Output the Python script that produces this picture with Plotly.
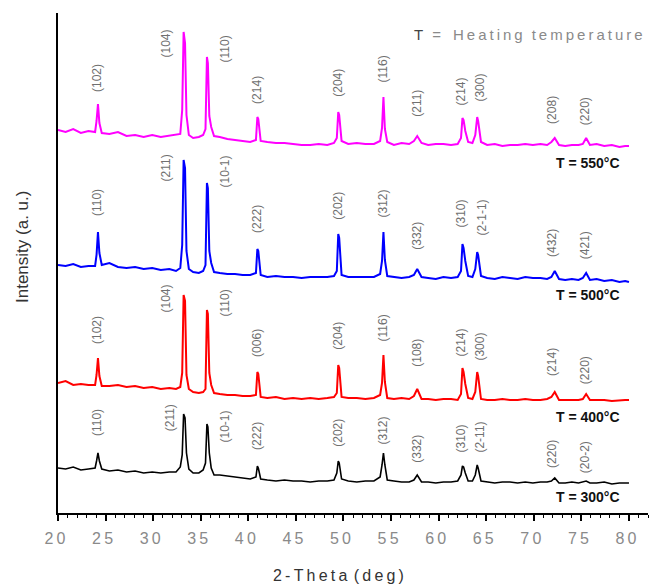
import plotly.graph_objects as go

# ---- data (2-theta grid shared by all patterns) ----
two_theta = [
    20.0, 20.8, 21.6, 22.4, 23.2,
    23.9, 24.05, 24.2, 24.35, 24.6,
    25.4, 26.3, 27.2, 28.1, 29.0, 29.9, 30.8, 31.7, 32.4,
    32.85, 33.05, 33.2, 33.35, 33.5, 33.75,
    34.2, 34.8, 35.25,
    35.5, 35.65, 35.75, 35.9, 36.1, 36.4,
    37.0, 37.8, 38.6, 39.4, 40.2,
    40.8, 40.95, 41.05, 41.3,
    42.0, 42.9, 43.8, 44.7, 45.6, 46.5, 47.4, 48.3, 49.0,
    49.3, 49.45, 49.55, 49.8,
    50.5, 51.4, 52.3, 53.2,
    53.85, 54.05, 54.2, 54.35, 54.6,
    55.3, 56.1, 56.9,
    57.4, 57.75, 58.2,
    58.9, 59.7, 60.5, 61.3, 62.0,
    62.35, 62.5, 62.62, 62.8, 63.1,
    63.55,
    63.85, 64.05, 64.15, 64.45,
    65.1, 65.9, 66.7, 67.5, 68.3, 69.1, 69.9, 70.7, 71.4,
    71.85, 72.2, 72.65,
    73.3, 74.0, 74.7,
    75.15, 75.5, 75.9,
    76.6, 77.4, 78.2, 79.0, 79.6, 80.0,
]

intensity_550 = [
    383, 381, 384, 380, 382,
    381, 392, 409, 390, 380,
    379, 381, 377, 378, 376, 378, 376, 377, 378,
    379, 403, 481, 470, 398, 378,
    375, 376, 378,
    384, 456, 450, 397, 386, 377,
    376, 374, 373, 372, 371,
    373, 396, 394, 372,
    371, 370, 370, 369, 368, 368, 369, 368, 370,
    375, 401, 398, 372,
    369, 370, 369, 369,
    372, 385, 416, 384, 371,
    368, 370, 369,
    372, 377, 370,
    368, 369, 369, 368, 369,
    375, 395, 393, 382, 371,
    370,
    378, 396, 392, 371,
    368, 369, 367, 368, 368, 369, 368, 369, 368,
    371, 375, 368,
    367, 368, 368,
    369, 375, 368,
    369, 367, 368, 366, 367, 367,
]

intensity_500 = [
    248, 247, 249, 246, 247,
    247, 258, 281, 260, 248,
    250, 246, 245, 246, 244, 245, 243, 244, 242,
    245, 268, 353, 345, 262, 244,
    241, 240, 242,
    248, 330, 325, 262, 250, 241,
    240, 239, 239, 238, 238,
    240, 264, 262, 238,
    236, 237, 236, 236, 235, 236, 236, 236, 237,
    242, 279, 275, 238,
    236, 236, 236, 236,
    239, 252, 281, 253, 237,
    236, 235, 236,
    238, 244, 236,
    235, 234, 236, 235, 236,
    242, 269, 265, 252, 237,
    236,
    244, 261, 258, 237,
    235, 234, 236, 235, 234, 236, 235, 235, 234,
    236, 242, 234,
    233, 234, 233,
    235, 240, 233,
    234, 232, 233, 231, 232, 231,
]

intensity_400 = [
    130, 132, 128, 129, 128,
    128, 138, 155, 137, 127,
    127, 128, 126, 127, 125, 126, 124, 125, 124,
    126, 140, 218, 212, 138, 124,
    121, 120, 121,
    124, 203, 199, 140, 128, 120,
    119, 118, 118, 117, 117,
    118, 141, 139, 116,
    115, 116, 114, 115, 114, 115, 114, 115, 116,
    120, 148, 145, 116,
    115, 115, 114, 115,
    118, 130, 158, 131, 115,
    114, 115, 114,
    117, 124, 114,
    114, 113, 114, 114, 113,
    119, 145, 141, 129, 115,
    114,
    121, 141, 137, 114,
    113, 113, 114, 113, 113, 114, 113, 113, 114,
    116, 121, 113,
    113, 113, 113,
    114, 119, 113,
    113, 113, 112, 113, 113, 113,
]

intensity_300 = [
    45, 44, 46, 43, 44,
    45, 52, 60, 52, 44,
    42, 43, 41, 42, 40, 41, 40, 41, 41,
    46, 58, 99, 95, 60, 44,
    40, 40, 43,
    50, 89, 86, 60, 45, 38,
    38, 37, 36, 35, 34,
    36, 47, 45, 34,
    33, 32, 33, 32, 32, 31, 32, 32, 33,
    40, 52, 50, 34,
    32, 31, 32, 32,
    36, 48, 60, 48, 33,
    32, 31, 31,
    33, 38, 31,
    31, 30, 31, 31, 32,
    38, 47, 46, 40, 32,
    32,
    38, 48, 45, 32,
    31, 30, 31, 31, 30, 31, 30, 31, 31,
    32, 35, 30,
    30, 31, 30,
    31, 32, 30,
    30, 31, 29, 30, 30, 30,
]

# peak index (hkl) labels for each pattern
hkl_550 = ["(102)", "(104)", "(110)", "(214)", "(204)", "(116)", "(211)", "(214)", "(300)", "(208)", "(220)"]
hkl_500 = ["(110)", "(211)", "(10-1)", "(222)", "(202)", "(312)", "(332)", "(310)", "(2-1-1)", "(432)", "(421)"]
hkl_400 = ["(102)", "(104)", "(110)", "(006)", "(204)", "(116)", "(108)", "(214)", "(300)", "(214)", "(220)"]
hkl_300 = ["(110)", "(211)", "(10-1)", "(222)", "(202)", "(312)", "(332)", "(310)", "(2-11)", "(220)", "(20-2)"]

temperatures = ["T = 550°C", "T = 500°C", "T = 400°C", "T = 300°C"]
x_ticks = [20, 25, 30, 35, 40, 45, 50, 55, 60, 65, 70, 75, 80]

# ---- layout helpers (positions of the labels) ----
label_x = [24.1, 31.4, 37.6, 40.9, 49.4, 54.1, 57.7, 62.3, 64.3, 71.9, 75.4]
label_y = {
    "550": [435, 470, 464, 423, 430, 444, 410, 421, 425, 403, 402],
    "500": [310, 345, 342, 294, 307, 309, 277, 299, 296, 270, 268],
    "400": [183, 215, 210, 170, 177, 185, 160, 170, 166, 151, 143],
    "300": [90, 95, 87, 77, 80, 82, 64, 74, 76, 59, 56],
}
temp_y = [350, 218, 96, 16]

series = [
    ("550", intensity_550, "#ff00ff", hkl_550, 2.0),
    ("500", intensity_500, "#0000ff", hkl_500, 2.0),
    ("400", intensity_400, "#ff0000", hkl_400, 2.0),
    ("300", intensity_300, "#000000", hkl_300, 1.6),
]

FONT = "Liberation Sans, Arial"
PLOT_W, PLOT_H = 590, 500
thin = "\u2009"

fig = go.Figure()
annotations = []
for (key, ys, color, hkls, lw), ttxt, ty in zip(series, temperatures, temp_y):
    fig.add_trace(go.Scatter(x=two_theta, y=ys, mode="lines",
                             line=dict(color=color, width=lw), showlegend=False,
                             hoverinfo="skip"))
    lx = list(label_x)
    if key == "300":
        lx[1] = 31.8
    elif key == "500":
        lx[8] = 64.6
    for txt, x, y in zip(hkls, lx, label_y[key]):
        annotations.append(dict(x=x, y=y, xref="x", yref="y", text=txt, textangle=-90,
                                showarrow=False, xanchor="center", yanchor="middle",
                                font=dict(family=FONT, size=12, color="#707070")))
    annotations.append(dict(x=79.3, y=ty, xref="x", yref="y", text="<b>" + ttxt + "</b>",
                            showarrow=False, xanchor="right", yanchor="middle",
                            font=dict(family=FONT, size=14, color="#111111")))

heading = thin.join("Heating") + thin * 3 + thin.join("temperature")
annotations.append(dict(x=(645 - 58) / PLOT_W, y=(513 - 34) / PLOT_H, xref="paper", yref="paper",
                        text="<span style='color:#444'>T</span>" + thin * 3 + "=" + thin * 4 + heading,
                        showarrow=False, xanchor="right", yanchor="middle",
                        font=dict(family=FONT, size=15, color="#8a8a8a")))
annotations.append(dict(x=(338 - 58) / PLOT_W, y=-(575 - 513) / PLOT_H, xref="paper", yref="paper",
                        text=thin.join("2-Theta") + thin * 2 + thin.join("(deg)"),
                        showarrow=False, xanchor="center", yanchor="middle",
                        font=dict(family=FONT, size=16, color="#333333")))
annotations.append(dict(x=-(58 - 22) / PLOT_W, y=(513 - 247) / PLOT_H, xref="paper", yref="paper",
                        text="Intensity (a. u.)", textangle=-90,
                        showarrow=False, xanchor="center", yanchor="middle",
                        font=dict(family=FONT, size=17, color="#333333")))

fig.update_layout(
    annotations=annotations,
    width=651, height=587,
    margin=dict(l=58, r=3, t=13, b=74, pad=0),
    paper_bgcolor="white", plot_bgcolor="white",
    font=dict(family=FONT, color="#333333"),
)

fig.update_xaxes(
    range=[20, 82], tickmode="array", tickvals=x_ticks,
    ticktext=[thin.join(str(v)) for v in x_ticks], automargin=False,
    ticks="outside", ticklen=6, tickwidth=1.5, tickcolor="black",
    minor=dict(dtick=1, ticks="outside", ticklen=3, tickcolor="black", tickwidth=1),
    showline=True, linecolor="black", linewidth=2, showgrid=False, zeroline=False,
    tickfont=dict(family=FONT, size=16, color="#8a8a8a"),
    ticklabelshift=-3, ticklabelstandoff=4,
)
fig.update_yaxes(
    range=[0, 500], showticklabels=False, ticks="", showline=True, linecolor="black",
    linewidth=2, showgrid=False, zeroline=False, automargin=False,
)

fig.write_html(
    "out.html",
    config={"displayModeBar": False},
    post_script="document.body.style.margin='0';document.body.style.overflow='hidden';",
)
